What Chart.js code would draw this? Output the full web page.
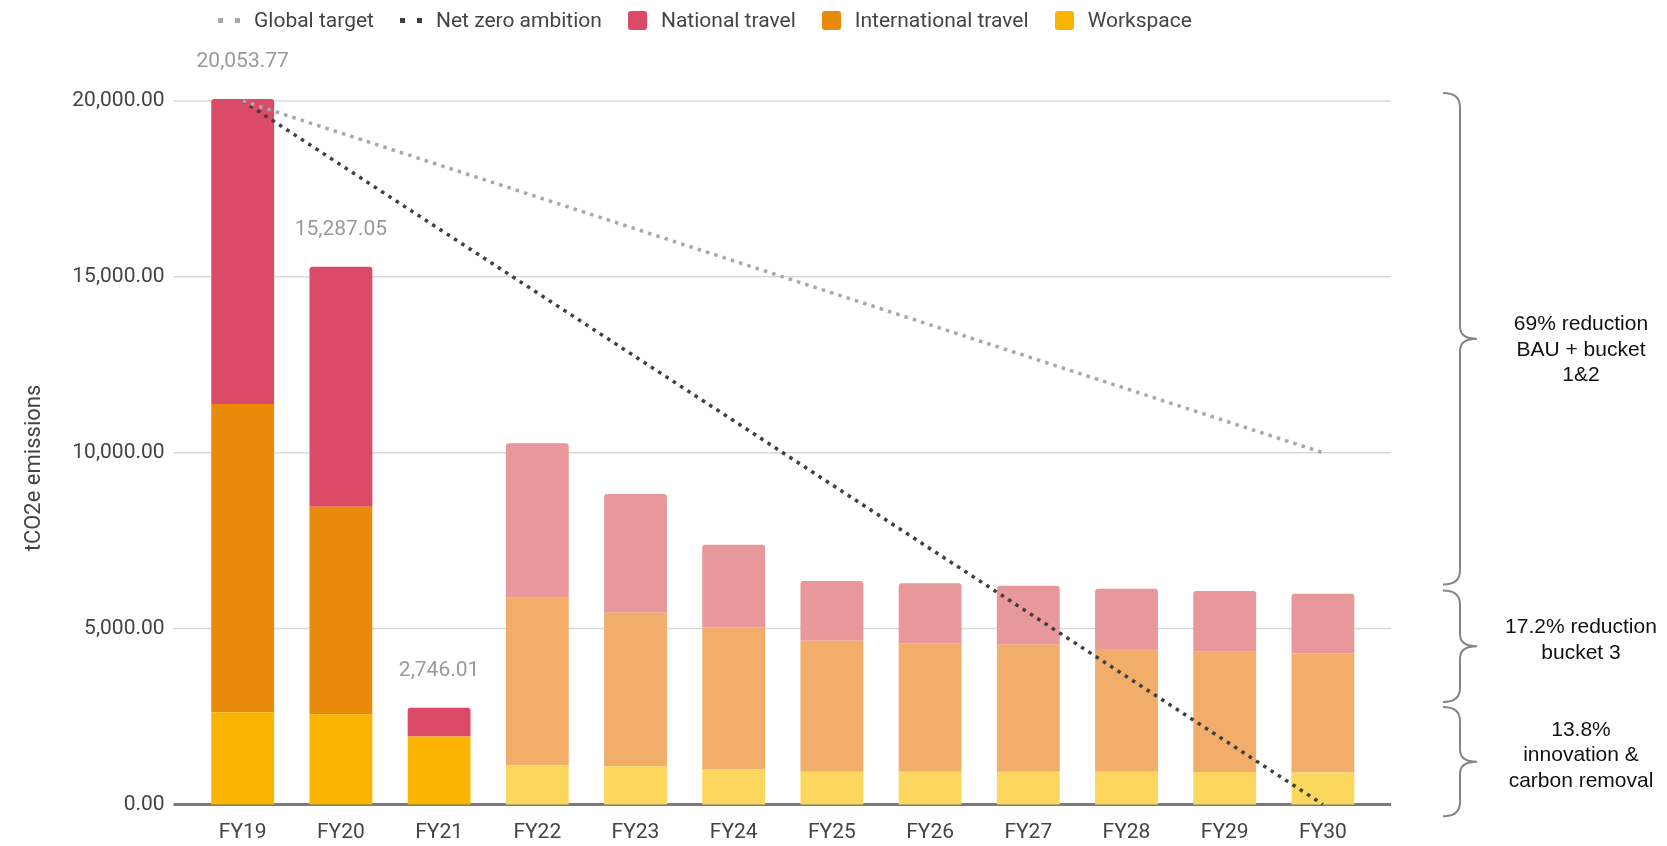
<!DOCTYPE html>
<html>
<head>
<meta charset="utf-8">
<title>Emissions pathway</title>
<script src="https://cdn.jsdelivr.net/npm/chart.js@4.4.0/dist/chart.umd.min.js"></script>
<style>
  html, body { margin: 0; padding: 0; background: #fff; }
  #wrap { position: relative; width: 1667px; height: 846px; }
  #legend {
    position: absolute; left: 218px; top: 8px; height: 24px;
    display: flex; align-items: center;
    font: 21px Roboto, Arial, sans-serif; color: #444; line-height: 24px;
  }
  #legend .item { display: flex; align-items: center; margin-right: 26px; white-space: nowrap; }
  #legend .box { width: 19px; height: 19px; border-radius: 3px; margin-right: 14px; }
  #legend .dots { display: flex; margin-right: 14px; }
  #legend .dots span { width: 5px; height: 5px; margin-right: 12px; }
  #legend .dots span:last-child { margin-right: 0; }
</style>
</head>
<body>
<div id="wrap">
  <canvas id="chart" width="1667" height="846"></canvas>
  <div id="legend"></div>
</div>
<script>
// --- Дані ---
const categories = ['FY19', 'FY20', 'FY21', 'FY22', 'FY23', 'FY24', 'FY25', 'FY26', 'FY27', 'FY28', 'FY29', 'FY30'];
const workspace = [2620, 2560, 1928, 1114, 1084, 994, 925, 925, 925, 925, 920, 910];
const internationalTravel = [8766, 5904, 0, 4759, 4368, 4036, 3725, 3655, 3615, 3490, 3420, 3390];
const nationalTravel = [8667.77, 6823.05, 818.01, 4398, 3373, 2350, 1700, 1705, 1680, 1715, 1730, 1690];
const globalTarget = [20000, null, null, null, null, null, null, null, null, null, null, 10000];
const netZeroAmbition = [20000, null, null, null, null, null, null, null, null, null, null, 0];
const yTicks = [0, 5000, 10000, 15000, 20000];
const actualYears = 3; // FY19-FY21 факт, далі прогноз

// дужки праворуч: діапазон у тоннах, зсув тексту від вістря, підпис
const braceRanges = [
    [20230, 6250, 11, ['69% reduction', 'BAU + bucket', '1&2']],
    [6080, 2910, -6, ['17.2% reduction', 'bucket 3']],
    [2770, -340, -6, ['13.8%', 'innovation &', 'carbon removal']]
];

const FONT = 'Roboto, Arial, sans-serif';
Chart.defaults.font.family = FONT;

const colors = {
    national: ['#db4a66', '#e8979b'],
    international: ['#e98a0a', '#f2ad6b'],
    workspace: ['#fbb400', '#fcd75e']
};
const pick = pair => ctx => ctx.dataIndex < actualYears ? pair[0] : pair[1];

const fmt = v => v.toLocaleString('en-US', { minimumFractionDigits: 2, maximumFractionDigits: 2 });

// сітка ширша за область барів + підпис осі Y
const gridPlugin = {
    id: 'wideGrid',
    beforeDatasetsDraw(chart) {
        const { ctx, chartArea } = chart;
        const y = chart.scales.y;
        ctx.save();
        y.ticks.forEach(t => {
            const py = y.getPixelForValue(t.value);
            ctx.strokeStyle = t.value === 0 ? '#7a7a7a' : '#d9d9d9';
            ctx.lineWidth = t.value === 0 ? 3 : 1.5;
            ctx.beginPath();
            ctx.moveTo(chartArea.left - 20, py);
            ctx.lineTo(chartArea.right + 19, py);
            ctx.stroke();
        });

        ctx.translate(40, 468);
        ctx.rotate(-Math.PI / 2);
        ctx.font = '22px ' + FONT;
        ctx.fillStyle = '#444';
        ctx.textAlign = 'center';
        ctx.textBaseline = 'alphabetic';
        ctx.fillText('tCO2e emissions', 0, 0);
        ctx.restore();
    }
};

// підсумки над фактичними роками
const totalsPlugin = {
    id: 'totals',
    afterDatasetsDraw(chart) {
        const { ctx } = chart;
        const x = chart.scales.x, y = chart.scales.y;
        ctx.save();
        ctx.font = '21px ' + FONT;
        ctx.fillStyle = '#999';
        ctx.textAlign = 'center';
        ctx.textBaseline = 'middle';
        for (let i = 0; i < actualYears; i++) {
            const total = workspace[i] + internationalTravel[i] + nationalTravel[i];
            ctx.fillText(fmt(total), x.getPixelForValue(i), y.getPixelForValue(total) - 37);
        }
        ctx.restore();
    }
};

// фігурні дужки з поясненнями
const bracesPlugin = {
    id: 'braces',
    afterDraw(chart) {
        const { ctx } = chart;
        const y = chart.scales.y;
        const xl = 1443, xv = 1460, xt = 1477, r = 14;
        ctx.save();
        braceRanges.forEach(([top, bottom, shift, lines]) => {
            const y1 = y.getPixelForValue(top);
            const y2 = y.getPixelForValue(bottom);
            const ym = (y1 + y2) / 2;
            ctx.strokeStyle = '#858585';
            ctx.lineWidth = 2;
            ctx.beginPath();
            ctx.moveTo(xl, y1);
            ctx.quadraticCurveTo(xv, y1, xv, y1 + r);
            ctx.lineTo(xv, ym - 12);
            ctx.quadraticCurveTo(xv, ym, xt, ym);
            ctx.quadraticCurveTo(xv, ym, xv, ym + 12);
            ctx.lineTo(xv, y2 - r);
            ctx.quadraticCurveTo(xv, y2, xl, y2);
            ctx.stroke();

            ctx.font = '21px "Liberation Sans", Arial, sans-serif';
            ctx.fillStyle = '#111';
            ctx.textAlign = 'center';
            ctx.textBaseline = 'middle';
            const lh = 25.5;
            const start = ym + shift - (lines.length - 1) * lh / 2;
            lines.forEach((t, k) => ctx.fillText(t, 1581, start + k * lh));
        });
        ctx.restore();
    }
};

const chart = new Chart(document.getElementById('chart'), {
    type: 'bar',
    data: {
        labels: categories,
        datasets: [
            {
                label: 'Workspace', data: workspace, stack: 'emissions',
                backgroundColor: pick(colors.workspace), legendColor: colors.workspace[0],
                barPercentage: 0.64, categoryPercentage: 1, clip: false
            },
            {
                label: 'International travel', data: internationalTravel, stack: 'emissions',
                backgroundColor: pick(colors.international), legendColor: colors.international[0],
                barPercentage: 0.64, categoryPercentage: 1, clip: false
            },
            {
                label: 'National travel', data: nationalTravel, stack: 'emissions',
                backgroundColor: pick(colors.national), legendColor: colors.national[0],
                borderRadius: { topLeft: 3, topRight: 3, bottomLeft: 0, bottomRight: 0 },
                borderSkipped: 'bottom',
                barPercentage: 0.64, categoryPercentage: 1, clip: false
            },
            {
                type: 'line', label: 'Global target', data: globalTarget, stack: 'global',
                borderColor: '#a8a8a8', borderWidth: 3.5, borderDash: [3.5, 5.2], borderCapStyle: 'butt',
                pointRadius: 0, spanGaps: true, fill: false, order: -1, clip: false, legendColor: '#a8a8a8'
            },
            {
                type: 'line', label: 'Net zero ambition', data: netZeroAmbition, stack: 'netzero',
                borderColor: '#3f3f3f', borderWidth: 3.5, borderDash: [3.5, 5.2], borderCapStyle: 'butt',
                pointRadius: 0, spanGaps: true, fill: false, order: -1, clip: false, legendColor: '#3f3f3f'
            }
        ]
    },
    options: {
        responsive: false,
        animation: false,
        events: [],
        layout: { padding: { top: 101, right: 295, bottom: 0, left: 0 } },
        plugins: { legend: { display: false }, tooltip: { enabled: false } },
        scales: {
            x: {
                stacked: true,
                offset: true,
                grid: { display: false, drawTicks: false },
                border: { display: false },
                ticks: { color: '#444', font: { size: 21 }, padding: 16 },
                afterFit(scale) { scale.height = 38; }
            },
            y: {
                stacked: true,
                min: 0,
                max: 20000,
                afterBuildTicks(scale) { scale.ticks = yTicks.map(v => ({ value: v })); },
                grid: { display: false, drawTicks: false },
                border: { display: false },
                ticks: { color: '#444', font: { size: 21 }, padding: 29, callback: v => fmt(v) },
                afterFit(scale) { scale.width = 193.6; }
            }
        }
    },
    plugins: [gridPlugin, totalsPlugin, bracesPlugin]
});

// --- Легенда ---
const legendOrder = ['Global target', 'Net zero ambition', 'National travel', 'International travel', 'Workspace'];
const legendEl = document.getElementById('legend');
legendOrder.forEach(name => {
    const ds = chart.data.datasets.find(d => d.label === name);
    const item = document.createElement('div');
    item.className = 'item';
    const marker = document.createElement('div');
    if (ds.type === 'line') {
        marker.className = 'dots';
        for (let k = 0; k < 2; k++) {
            const s = document.createElement('span');
            s.style.background = ds.legendColor;
            marker.appendChild(s);
        }
    } else {
        marker.className = 'box';
        marker.style.background = ds.legendColor;
    }
    const text = document.createElement('span');
    text.textContent = ds.label;
    item.appendChild(marker);
    item.appendChild(text);
    legendEl.appendChild(item);
});
</script>
</body>
</html>
